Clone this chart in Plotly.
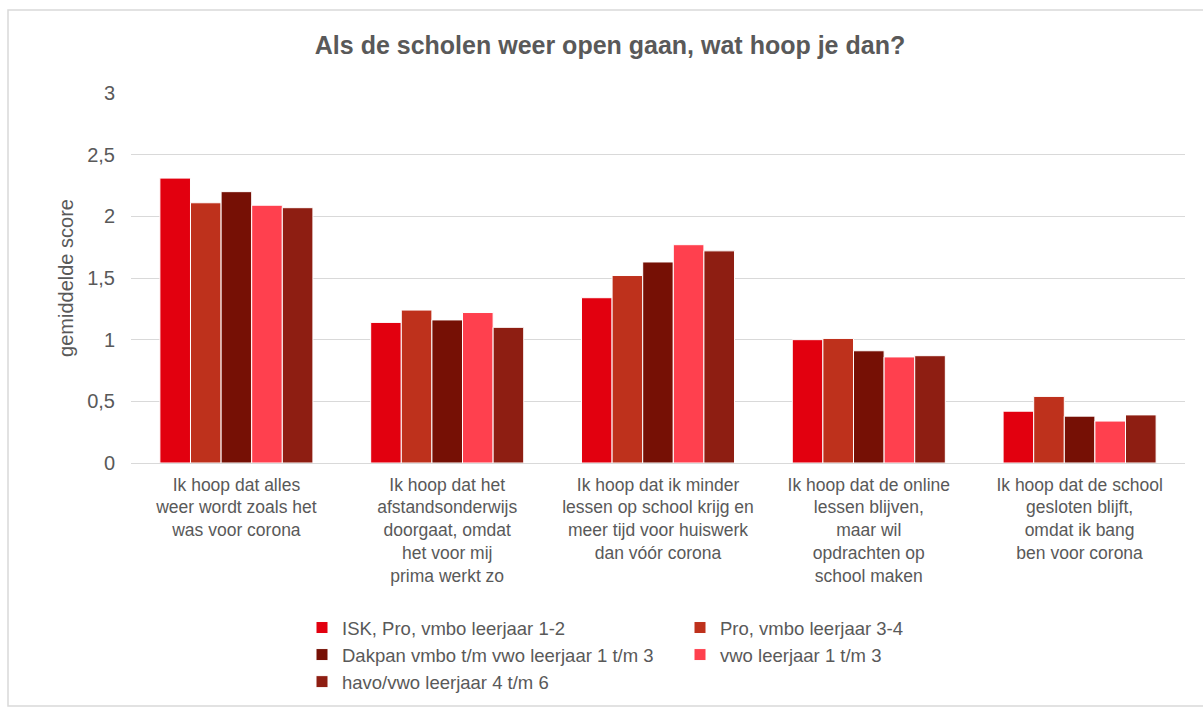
import plotly.graph_objects as go

categories = [
    "Ik hoop dat alles<br>weer wordt zoals het<br>was voor corona",
    "Ik hoop dat het<br>afstandsonderwijs<br>doorgaat, omdat<br>het voor mij<br>prima werkt zo",
    "Ik hoop dat ik minder<br>lessen op school krijg en<br>meer tijd voor huiswerk<br>dan vóór corona",
    "Ik hoop dat de online<br>lessen blijven,<br>maar wil<br>opdrachten op<br>school maken",
    "Ik hoop dat de school<br>gesloten blijft,<br>omdat ik bang<br>ben voor corona",
]

isk_pro_vmbo_1_2 = [2.31, 1.14, 1.34, 1.00, 0.42]
pro_vmbo_3_4 = [2.11, 1.24, 1.52, 1.01, 0.54]
dakpan_1_3 = [2.20, 1.16, 1.63, 0.91, 0.38]
vwo_1_3 = [2.09, 1.22, 1.77, 0.86, 0.34]
havo_vwo_4_6 = [2.07, 1.10, 1.72, 0.87, 0.39]

series_names = [
    "ISK, Pro, vmbo leerjaar 1-2",
    "Pro, vmbo leerjaar 3-4",
    "Dakpan vmbo t/m vwo leerjaar 1 t/m 3",
    "vwo leerjaar 1 t/m 3",
    "havo/vwo leerjaar 4 t/m 6",
]
series_values = [isk_pro_vmbo_1_2, pro_vmbo_3_4, dakpan_1_3, vwo_1_3, havo_vwo_4_6]
series_colors = ["#E2000F", "#BE311C", "#761005", "#FF404E", "#8E1E12"]

y_ticks = [0, 0.5, 1, 1.5, 2, 2.5, 3]
y_tick_labels = ["0", "0,5", "1", "1,5", "2", "2,5", "3"]

FONT = "Liberation Sans, Arial, sans-serif"
GREY = "#595959"

fig = go.Figure()
for name, vals, col in zip(series_names, series_values, series_colors):
    fig.add_trace(go.Bar(
        x=categories, y=vals, name=name,
        marker=dict(color=col, line=dict(color="#FFFFFF", width=1)),
    ))

W, H = 1203, 708
ml, mr, mt, mb = 131, 18, 93, 245
pw = W - ml - mr
ph = H - mt - mb

def px_x(x):
    return (x - ml) / pw

def px_y(y):
    return (H - mb - y) / ph

fig.update_layout(
    width=W, height=H,
    margin=dict(l=ml, r=mr, t=mt, b=mb, autoexpand=False),
    paper_bgcolor="#FFFFFF", plot_bgcolor="#FFFFFF",
    font=dict(family=FONT, color=GREY, size=18),
    title=dict(
        text="<b>Als de scholen weer open gaan, wat hoop je dan?</b>",
        x=610 / W, xref="container", xanchor="center",
        y=1 - 45 / H, yref="container", yanchor="middle",
        font=dict(size=25, color=GREY, family=FONT),
    ),
    barmode="group", bargap=0.274, bargroupgap=0,
    showlegend=True,
    legend=dict(
        orientation="h",
        x=px_x(302), xanchor="left",
        y=px_y(609), yanchor="top",
        entrywidth=333, entrywidthmode="pixels",
        font=dict(size=18.5, color=GREY, family=FONT),
        itemwidth=30,
        bgcolor="rgba(0,0,0,0)",
        traceorder="normal",
    ),
    xaxis=dict(
        showgrid=False, showline=False, ticks="",
        tickfont=dict(size=17.5, color=GREY, family=FONT),
        tickangle=0,
        ticklabelstandoff=9,
    ),
    yaxis=dict(
        range=[0, 3], tickvals=y_ticks, ticktext=y_tick_labels,
        showgrid=True, gridcolor="#D9D9D9", gridwidth=1,
        zeroline=True, zerolinecolor="#D9D9D9", zerolinewidth=1,
        showline=False, ticks="",
        tickfont=dict(size=20, color=GREY, family=FONT),
        ticklabelstandoff=15,
        title=dict(text="gemiddelde score", font=dict(size=20, color=GREY, family=FONT), standoff=8),
    ),
    shapes=[dict(
        type="rect", xref="paper", yref="paper",
        x0=px_x(8), x1=px_x(1210), y0=px_y(706), y1=px_y(10),
        line=dict(color="#D9D9D9", width=1.5), fillcolor="rgba(0,0,0,0)", layer="below",
    )],
)

fig.write_html("out.html")
